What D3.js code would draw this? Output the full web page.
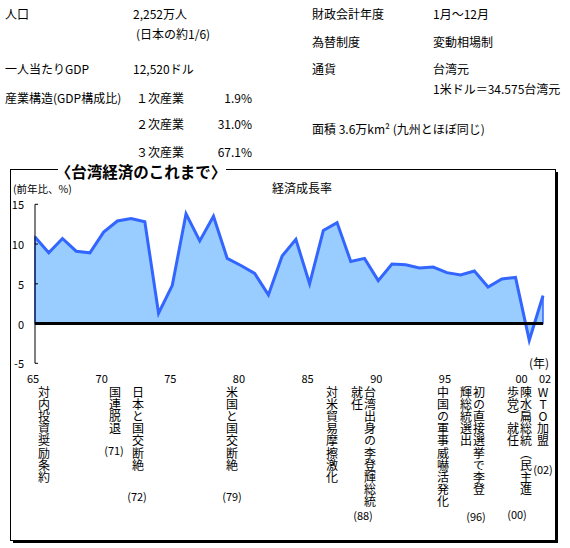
<!DOCTYPE html>
<html>
<head>
<meta charset="utf-8">
<script src="https://cdn.jsdelivr.net/npm/d3@7"></script>
<style>
  body { margin: 0; background: #fff; }
  svg { font-family: "Noto Sans CJK JP", sans-serif; }
  .vert { writing-mode: vertical-rl; text-orientation: upright; }
</style>
</head>
<body>
<div id="chart"></div>
<script>
// #region Data
const years = d3.range(1965, 2003);
const growth = [
  10.9, 8.9, 10.7, 9.1, 8.9, 11.5, 12.9, 13.2, 12.8, 1.3,
  4.8, 13.8, 10.4, 13.5, 8.2, 7.3, 6.3, 3.6, 8.5, 10.6,
  5.0, 11.7, 12.7, 7.8, 8.2, 5.4, 7.5, 7.4, 7.0, 7.1,
  6.4, 6.1, 6.6, 4.6, 5.6, 5.8, -2.1, 3.5,
];
const yTicks = [-5, 0, 5, 10, 15];
const xTickYears = [1965, 1970, 1975, 1980, 1985, 1990, 1995, 2000, 2002];
const xTickLabels = ['65', '70', '75', '80', '85', '90', '95', '00', '02'];

const infoLeft = [
  ['人口', '2,252万人', ''],
  ['', '(日本の約1/6)', ''],
  ['一人当たりGDP', '12,520ドル', ''],
  ['産業構造(GDP構成比)', '１次産業', '1.9%'],
  ['', '２次産業', '31.0%'],
  ['', '３次産業', '67.1%'],
];
const infoRight = [
  ['財政会計年度', '1月～12月'],
  ['為替制度', '変動相場制'],
  ['通貨', '台湾元'],
  ['', '1米ドル＝34.575台湾元'],
  ['面積 3.6万km² (九州とほぼ同じ)', ''],
];
const events = [
  { cols: ['対内投資奨励条約'], note: '' },
  { cols: ['国連脱退'], note: '(71)' },
  { cols: ['日本と国交断絶'], note: '(72)' },
  { cols: ['米国と国交断絶'], note: '(79)' },
  { cols: ['対米貿易摩擦激化'], note: '' },
  { cols: ['台湾出身の李登輝総統', '就任'], note: '(88)' },
  { cols: ['中国の軍事威嚇活発化'], note: '' },
  { cols: ['初の直接選挙で李登', '輝総統選出'], note: '(96)' },
  { cols: ['陳水扁総統︵民主進', '歩党︶就任'], note: '(00)' },
  { cols: ['WTO加盟'], note: '(02)' },
];
// #endregion

// #region Layout
const width = 570;
const height = 548;
const leftRowY = [13, 33, 68, 97, 123, 151];
const rightRowY = [13, 41, 68, 88, 128];
const eventLayout = [
  { x: 44 },
  { x: 115, nx: 114, ny: 450 },
  { x: 138, nx: 137, ny: 496 },
  { x: 232, nx: 232, ny: 496 },
  { x: 332 },
  { x: 370, nx: 363, ny: 515 },
  { x: 443 },
  { x: 479, nx: 476, ny: 516 },
  { x: 526, nx: 517, ny: 514 },
  { x: 543, nx: 543, ny: 469 },
];
const labelShift = { '00': 8, '02': 4 };
// #endregion

const svg = d3.select('#chart').append('svg')
  .attr('width', width)
  .attr('height', height);

// #region Info block
const left = svg.append('g').attr('font-size', 12).attr('dominant-baseline', 'central');
infoLeft.forEach((row, i) => {
  const y = leftRowY[i];
  left.append('text').attr('x', 5).attr('y', y).text(row[0]);
  left.append('text').attr('x', i === 0 || i === 2 ? 133 : 136).attr('y', y).text(row[1]);
  left.append('text').attr('x', 252).attr('y', y).attr('text-anchor', 'end').text(row[2]);
});
const right = svg.append('g').attr('font-size', 12).attr('dominant-baseline', 'central');
infoRight.forEach((row, i) => {
  const y = rightRowY[i];
  right.append('text').attr('x', 312).attr('y', y).text(row[0]);
  right.append('text').attr('x', 433).attr('y', y).text(row[1]);
});
// #endregion

// #region Frame
const frame = svg.append('g');
frame.append('rect')
  .attr('x', 13).attr('y', 172)
  .attr('width', 545).attr('height', 371)
  .attr('fill', '#000');
frame.append('rect')
  .attr('x', 10.5).attr('y', 169.5)
  .attr('width', 545).attr('height', 371)
  .attr('fill', '#fff').attr('stroke', '#000');
frame.append('rect')
  .attr('x', 58).attr('y', 160)
  .attr('width', 168).attr('height', 16)
  .attr('fill', '#fff');
frame.append('text')
  .attr('x', 141).attr('y', 171)
  .attr('text-anchor', 'middle')
  .attr('dominant-baseline', 'central')
  .attr('font-size', 15.5)
  .attr('font-weight', 'bold')
  .text('〈台湾経済のこれまで〉');
// #endregion

// #region Chart
const x = d3.scaleLinear().domain([1965, 2002]).range([35, 543]);
const y = d3.scaleLinear().domain([-5, 15]).range([363.3, 204.3]);
const series = years.map((yr, i) => ({ yr, v: growth[i] }));

svg.append('text')
  .attr('x', 13).attr('y', 188)
  .attr('dominant-baseline', 'central')
  .attr('font-size', 10.5)
  .text('(前年比、%)');
svg.append('text')
  .attr('x', 302).attr('y', 187)
  .attr('text-anchor', 'middle')
  .attr('dominant-baseline', 'central')
  .attr('font-size', 12)
  .text('経済成長率');

const area = d3.area()
  .x(d => x(d.yr))
  .y0(y(0))
  .y1(d => y(d.v));
svg.append('path')
  .datum(series)
  .attr('d', area)
  .attr('fill', '#99ccff')
  .attr('stroke', '#3366ff')
  .attr('stroke-width', 1.5);

svg.append('path')
  .datum(series)
  .attr('d', d3.line().x(d => x(d.yr)).y(d => y(d.v)))
  .attr('fill', 'none')
  .attr('stroke', '#3366ff')
  .attr('stroke-width', 3)
  .attr('stroke-linejoin', 'miter');

// y axis
const yAxis = svg.append('g').attr('transform', `translate(${x(1965)},0)`);
yAxis.append('line')
  .attr('y1', y(15)).attr('y2', y(-5))
  .attr('stroke', '#000');
yTicks.forEach(t => {
  yAxis.append('line')
    .attr('x1', 0).attr('x2', 3)
    .attr('y1', y(t)).attr('y2', y(t))
    .attr('stroke', '#000');
  yAxis.append('text')
    .attr('x', -11).attr('y', y(t))
    .attr('text-anchor', 'end')
    .attr('dominant-baseline', 'central')
    .attr('font-size', 11)
    .text(t);
});

// zero line
svg.append('line')
  .attr('x1', x(1965)).attr('x2', x(2002))
  .attr('y1', y(0)).attr('y2', y(0))
  .attr('stroke', '#000')
  .attr('stroke-width', 3);

// x labels
xTickYears.forEach((yr, i) => {
  const lbl = xTickLabels[i];
  svg.append('text')
    .attr('x', x(yr) - 2 + (labelShift[lbl] || 0))
    .attr('y', 378)
    .attr('text-anchor', 'middle')
    .attr('dominant-baseline', 'central')
    .attr('font-size', 11)
    .text(lbl);
});
svg.append('text')
  .attr('x', 539).attr('y', 362)
  .attr('text-anchor', 'middle')
  .attr('dominant-baseline', 'central')
  .attr('font-size', 12)
  .text('(年)');
// #endregion

// #region Event notes (one character per text, vertical, columns run right to left)
const notes = svg.append('g').attr('font-size', 12);
events.forEach((ev, i) => {
  const lay = eventLayout[i];
  ev.cols.forEach((col, c) => {
    Array.from(col).forEach((ch, k) => {
      notes.append('text')
        .attr('class', 'vert')
        .attr('x', lay.x - c * 13)
        .attr('y', 386 + k * 12.2)
        .text(ch);
    });
  });
  if (ev.note) {
    notes.append('text')
      .attr('x', lay.nx).attr('y', lay.ny)
      .attr('text-anchor', 'middle')
      .attr('dominant-baseline', 'central')
      .attr('font-size', 11)
      .text(ev.note);
  }
});
// #endregion
</script>
</body>
</html>
